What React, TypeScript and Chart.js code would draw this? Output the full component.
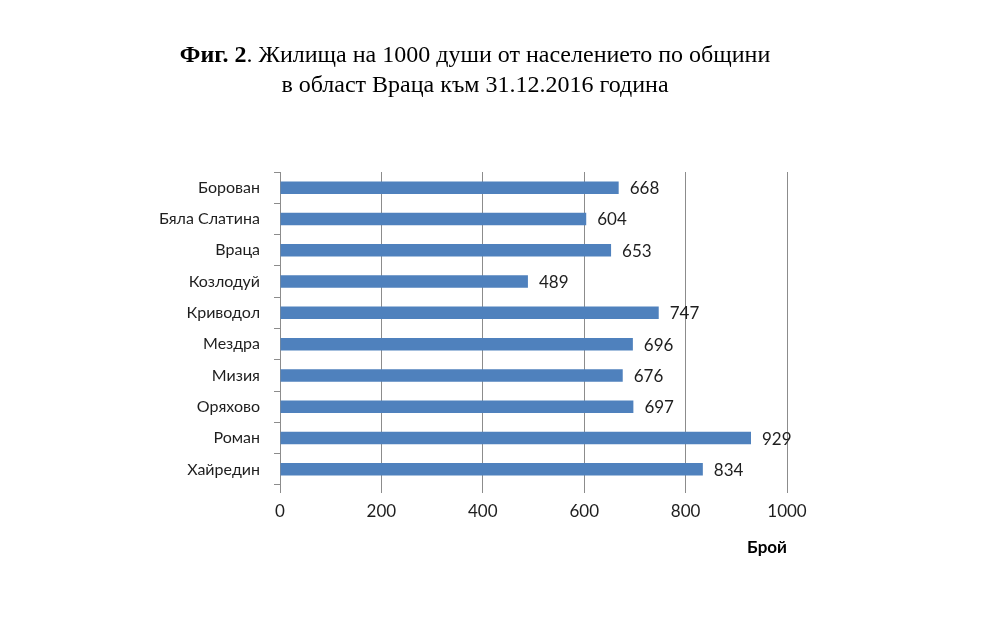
import React, { useEffect, useRef } from "react";
import { Chart, registerables } from "chart.js";

Chart.register(...registerables);

const categories = [
  "Борован",
  "Бяла Слатина",
  "Враца",
  "Козлодуй",
  "Криводол",
  "Мездра",
  "Мизия",
  "Оряхово",
  "Роман",
  "Хайредин",
];
const values = [668, 604, 653, 489, 747, 696, 676, 697, 929, 834];
const xTicks = [0, 200, 400, 600, 800, 1000];

const titleBold = "Фиг. 2";
const titleRest = ". Жилища на 1000 души от населението по общини";
const titleLine2 = "в област Враца към 31.12.2016 година";
const axisTitle = "Брой";

const SANS = "Lato, 'Open Sans', sans-serif";
const SERIF = "'Liberation Serif', 'DejaVu Serif', serif";

const titlePlugin = {
  id: "figTitle",
  afterDraw(chart: any) {
    const ctx = chart.ctx as CanvasRenderingContext2D;
    const cx = 475;
    ctx.save();
    ctx.fillStyle = "#000";
    ctx.textBaseline = "middle";
    ctx.textAlign = "left";
    ctx.font = `bold 24px ${SERIF}`;
    const wb = ctx.measureText(titleBold).width;
    ctx.font = `24px ${SERIF}`;
    const wr = ctx.measureText(titleRest).width;
    const x0 = cx - (wb + wr) / 2;
    ctx.font = `bold 24px ${SERIF}`;
    ctx.fillText(titleBold, x0, 56);
    ctx.font = `24px ${SERIF}`;
    ctx.fillText(titleRest, x0 + wb, 56);
    ctx.textAlign = "center";
    ctx.fillText(titleLine2, cx, 86);
    ctx.restore();
  },
};

const valueLabelPlugin = {
  id: "valueLabels",
  afterDatasetsDraw(chart: any) {
    const ctx = chart.ctx as CanvasRenderingContext2D;
    const meta = chart.getDatasetMeta(0);
    ctx.save();
    ctx.font = `17px ${SANS}`;
    ctx.fillStyle = "#1e1e1e";
    ctx.textAlign = "left";
    ctx.textBaseline = "middle";
    meta.data.forEach((el: any, i: number) => {
      ctx.fillText(String(values[i]), el.x + 11, el.y + 1);
    });
    ctx.restore();
  },
};

export default function App() {
  const ref = useRef<HTMLCanvasElement>(null);
  useEffect(() => {
    if (!ref.current) return;
    const chart = new Chart(ref.current, {
      type: "bar",
      data: {
        labels: categories,
        datasets: [
          {
            data: values,
            backgroundColor: "#4F81BD",
            borderWidth: 0,
            barPercentage: 0.4,
            categoryPercentage: 1,
          },
        ],
      },
      options: {
        indexAxis: "y",
        responsive: false,
        animation: false,
        layout: { padding: { left: 0, right: 204, top: 172, bottom: 0 } },
        plugins: {
          legend: { display: false },
          title: { display: false },
          tooltip: { enabled: false },
        },
        scales: {
          x: {
            min: 0,
            max: 1000,
            afterBuildTicks(scale: any) {
              scale.ticks = xTicks.map((v) => ({ value: v }));
            },
            afterFit(scale: any) {
              scale.height = 623 - 485;
            },
            grid: {
              color: "#8c8c8c",
              lineWidth: 1,
              drawOnChartArea: true,
              drawTicks: true,
              tickLength: 8,
            },
            border: { display: false },
            ticks: {
              color: "#1e1e1e",
              font: { family: SANS, size: 17 },
              padding: 8,
              callback: (v: any) => String(v),
            },
            title: {
              display: true,
              text: axisTitle,
              align: "end",
              color: "#000",
              font: { family: SANS, size: 17, weight: "bold" },
              padding: { top: 0, bottom: 65 },
            },
          },
          y: {
            afterFit(scale: any) {
              scale.width = 280;
            },
            grid: {
              offset: true,
              drawOnChartArea: false,
              drawTicks: true,
              tickLength: 6,
              color: "#8c8c8c",
            },
            border: { display: true, color: "#8c8c8c" },
            ticks: {
              color: "#1e1e1e",
              font: { family: SANS, size: 16 },
              padding: 14,
            },
          },
        },
      },
      plugins: [titlePlugin, valueLabelPlugin],
    });
    return () => chart.destroy();
  }, []);
  return (
    <div style={{ position: "fixed", left: 0, top: 0, width: 991, height: 623, background: "#fff" }}>
      <canvas ref={ref} width={991} height={623} />
    </div>
  );
}
